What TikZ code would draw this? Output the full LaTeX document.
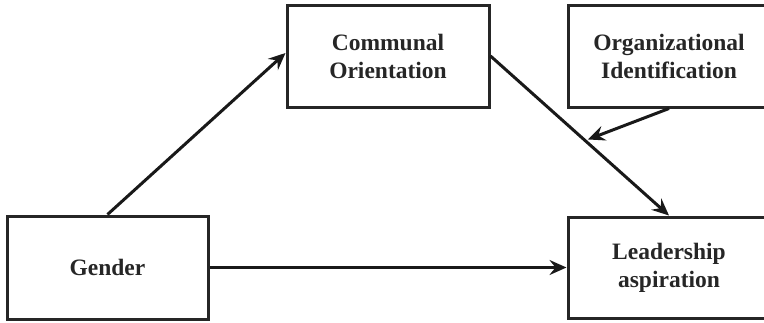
\documentclass[tikz,border=0pt]{standalone}
\usepackage{fontspec}
\setmainfont{Liberation Serif}
\usetikzlibrary{arrows.meta}
\begin{document}
\begin{tikzpicture}[x=1pt,y=-1pt,
  box/.style={draw=black!85,line width=3pt,minimum width=202pt,minimum height=102pt,
    align=center,font=\fontsize{23.5}{28}\selectfont\bfseries,inner sep=0pt,text=black!85},
  arr/.style={draw=black!90,line width=3pt,-{Stealth[length=17pt,width=15pt,inset=6pt]}}]
\useasboundingbox (0,0) rectangle (764,322);
\clip (0,0) rectangle (764,322);
\node[box] (comm) at (388,56) {Communal\\Orientation};
\node[box] (org) at (669,56) {Organizational\\Identification};
\node[box,minimum width=201pt,minimum height=103pt] (gen) at (107.5,267.5) {Gender};
\node[box,minimum height=101pt] (lead) at (669,267.5) {Leadership\\aspiration};
\draw[arr] (gen.north) -- ([yshift=3pt]comm.west);
\draw[arr] (comm.east) -- coordinate[pos=0.53] (mid) (lead.north);
\draw[arr,shorten >=3pt] (org.south) -- (mid);
\draw[arr] (gen.east) -- (lead.west);
\end{tikzpicture}
\end{document}
